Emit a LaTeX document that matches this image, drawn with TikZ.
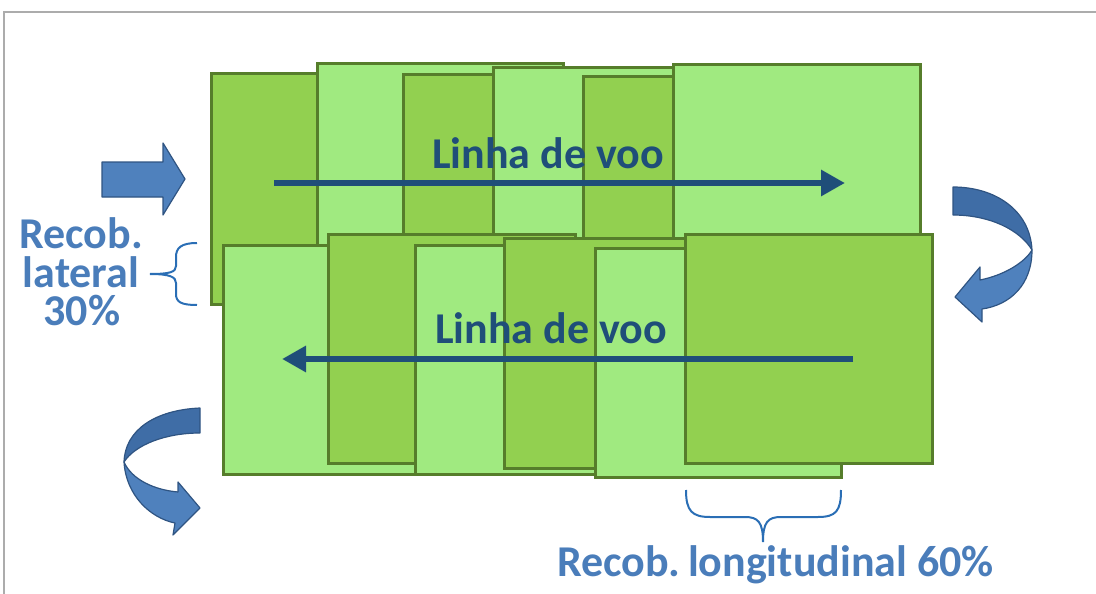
\documentclass[tikz,border=0pt]{standalone}
\usepackage{fontspec}
\setmainfont{Carlito}
\usetikzlibrary{arrows.meta}
\definecolor{gDark}{HTML}{92D050}
\definecolor{gLight}{HTML}{A0EA80}
\definecolor{gEdge}{HTML}{567D2B}
\definecolor{flightblue}{HTML}{1F4E79}
\definecolor{labelblue}{HTML}{4A7DBA}
\definecolor{braceblue}{HTML}{2A6EB5}
\definecolor{arrowfill}{HTML}{4F81BD}
\definecolor{arrowdark}{HTML}{3F6DA6}
\definecolor{arrowedge}{HTML}{2F5482}
\tikzset{
  dk/.style={fill=gDark,draw=gEdge,line width=3pt},
  lt/.style={fill=gLight,draw=gEdge,line width=3pt},
  flight/.style={draw=flightblue,line width=6pt,-{Triangle[length=24pt,width=25pt]}},
  flighttext/.style={font=\bfseries\fontsize{44}{44}\selectfont,text=flightblue,inner sep=0pt,anchor=base west},
  labeltext/.style={font=\bfseries\fontsize{44}{44}\selectfont,text=labelblue,inner sep=0pt,anchor=base},
  bracestyle/.style={draw=braceblue,line width=2pt},
  blockarrow/.style={fill=arrowfill,draw=arrowedge,line width=1.2pt,line join=round},
  blockarrowdark/.style={fill=arrowdark,draw=arrowedge,line width=1.2pt,line join=round}
}
\begin{document}
\begin{tikzpicture}[x=1pt,y=-1pt]
\useasboundingbox (0,0) rectangle (1096,594);
% frame
\draw[gray!65,line width=2pt] (4,594) -- (4,12) -- (1096,12);
% first strip of photos
\path[dk] (211,74) rectangle (457,304);
\path[lt] (317,64) rectangle (563,294);
\path[dk] (403,75) rectangle (649,305);
\path[lt] (493,68) rectangle (739,298);
\path[dk] (583,77) rectangle (829,307);
\path[lt] (673,65) rectangle (920,295);
% second strip of photos
\path[lt] (223,245) rectangle (469,474);
\path[dk] (328,234) rectangle (575,463);
\path[lt] (415,245) rectangle (661,474);
\path[dk] (504,238) rectangle (750,468);
\path[lt] (595,248) rectangle (841,477);
\path[dk] (685,234) rectangle (932,463);
% flight lines
\coordinate (l1s) at (274,183);
\coordinate (l1e) at (845,183);
\draw[flight] (l1s) -- (l1e);
\coordinate (l2s) at (853,359);
\coordinate (l2e) at (282,359);
\draw[flight] (l2s) -- (l2e);
\node[flighttext] (t1) at (432,168) {Linha de voo};
\node[flighttext] (t2) at (435,343) {Linha de voo};
% left block arrow
\path[blockarrow] (102,162) -- (163,162) -- (163,143) -- (185,179) -- (163,215) -- (163,197) -- (102,197) -- cycle;
% right curved arrow
\path[blockarrowdark] (953,187) .. controls (995,187) and (1030,210) .. (1032,250)
   .. controls (1020,230) and (990,215) .. (953,215) -- cycle;
\path[blockarrow] (1032,250) .. controls (1032,285) and (1010,305) .. (982,309) -- (982,322) -- (955,297) -- (980,267) -- (980,280)
   .. controls (1005,275) and (1025,262) .. (1032,250) -- cycle;
% lower-left curved arrow
\path[blockarrowdark] (200,408) .. controls (155,410) and (125,430) .. (124,462)
   .. controls (135,445) and (165,433) .. (200,433) -- cycle;
\path[blockarrow] (124,462) .. controls (126,495) and (150,518) .. (175,523) -- (173,535) -- (200,508) -- (178,482) -- (178,492)
   .. controls (155,490) and (132,480) .. (124,462) -- cycle;
% lateral overlap label
\node[labeltext] (r1) at (81,248) {Recob.};
\node[labeltext] (r2) at (81,287) {lateral};
\node[labeltext] (r3) at (82,325) {30\%};
\draw[bracestyle] (197,243) .. controls (181,243) and (176,248) .. (176,257) -- (176,266)
   .. controls (176,272) and (170,274) .. (150,274)
   .. controls (170,274) and (176,277) .. (176,283) -- (176,294)
   .. controls (176,302) and (181,305) .. (197,305);
% longitudinal overlap label
\draw[bracestyle] (686,490) .. controls (686,511) and (692,517) .. (710,517) -- (745,517)
   .. controls (758,517) and (763,522) .. (763,542)
   .. controls (763,522) and (768,517) .. (781,517) -- (818,517)
   .. controls (836,517) and (841,511) .. (841,490);
\node[labeltext,anchor=base west] (rl) at (557,576) {Recob.\,longitudinal 60\%};
\end{tikzpicture}
\end{document}
